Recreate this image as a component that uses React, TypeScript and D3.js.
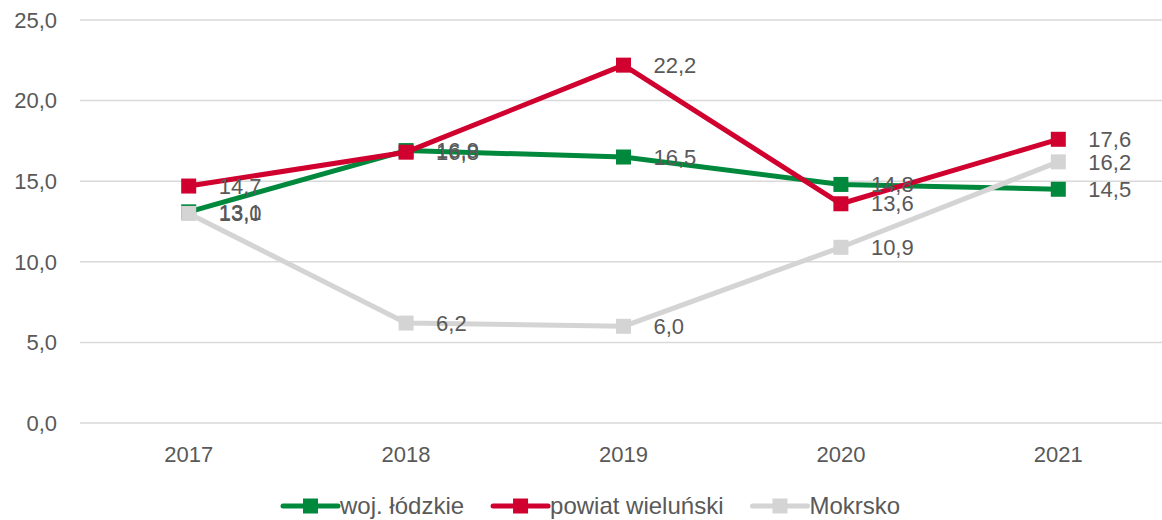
import React, { useEffect, useRef } from 'react';
import * as d3 from 'd3';

const years = ['2017', '2018', '2019', '2020', '2021'];
const wojLodzkie = [13.1, 16.9, 16.5, 14.8, 14.5];
const powiatWielunski = [14.7, 16.8, 22.2, 13.6, 17.6];
const mokrsko = [13.0, 6.2, 6.0, 10.9, 16.2];
const yTicks = [0, 5, 10, 15, 20, 25];

const seriesList = [
  { name: 'woj. łódzkie', values: wojLodzkie, color: '#00893D' },
  { name: 'powiat wieluński', values: powiatWielunski, color: '#D0002F' },
  { name: 'Mokrsko', values: mokrsko, color: '#D4D4D4' },
];

const W = 1162;
const H = 520;
const FONT = '"Liberation Sans", Arial, sans-serif';
const TEXT = '#595959';

const fmt = (v: number) => d3.format('.1f')(v).replace('.', ',');

const App = () => {
  const ref = useRef<SVGSVGElement>(null);

  useEffect(() => {
    const svg = d3.select(ref.current);
    svg.selectAll('*').remove();

    const x = d3.scaleBand().domain(years).range([80, 1167]);
    const y = d3.scaleLinear().domain([0, 25]).range([423, 20]);
    const cx = (d: string) => (x(d) as number) + x.bandwidth() / 2;

    // gridlines
    svg
      .append('g')
      .selectAll('line')
      .data(yTicks)
      .enter()
      .append('line')
      .attr('x1', 80)
      .attr('x2', 1167)
      .attr('y1', (d) => y(d))
      .attr('y2', (d) => y(d))
      .attr('stroke', '#D9D9D9')
      .attr('stroke-width', 1.5);

    // y labels
    svg
      .append('g')
      .selectAll('text')
      .data(yTicks)
      .enter()
      .append('text')
      .attr('x', 57)
      .attr('y', (d) => y(d))
      .attr('dy', '0.35em')
      .attr('text-anchor', 'end')
      .attr('font-family', FONT)
      .attr('font-size', 22)
      .attr('fill', TEXT)
      .text((d) => fmt(d));

    // x labels
    svg
      .append('g')
      .selectAll('text')
      .data(years)
      .enter()
      .append('text')
      .attr('x', (d) => cx(d))
      .attr('y', 462)
      .attr('text-anchor', 'middle')
      .attr('font-family', FONT)
      .attr('font-size', 22)
      .attr('fill', TEXT)
      .text((d) => d);

    const line = d3
      .line<number>()
      .x((_, i) => cx(years[i]))
      .y((d) => y(d));

    seriesList.forEach((s) => {
      const g = svg.append('g');
      g.append('path')
        .attr('d', line(s.values))
        .attr('fill', 'none')
        .attr('stroke', s.color)
        .attr('stroke-width', 5)
        .attr('stroke-linejoin', 'round');
      g.selectAll('rect')
        .data(s.values)
        .enter()
        .append('rect')
        .attr('x', (_, i) => cx(years[i]) - 7.5)
        .attr('y', (d) => y(d) - 7.5)
        .attr('width', 15)
        .attr('height', 15)
        .attr('fill', s.color);
    });

    // value labels (drawn over all lines, overlaps kept as in the source)
    seriesList.forEach((s) => {
      svg
        .append('g')
        .selectAll('text')
        .data(s.values)
        .enter()
        .append('text')
        .attr('x', (_, i) => cx(years[i]) + 30)
        .attr('y', (d) => y(d))
        .attr('dy', '0.35em')
        .attr('font-family', FONT)
        .attr('font-size', 22)
        .attr('fill', TEXT)
        .text((d) => fmt(d));
    });

    // legend
    const legend = svg.append('g');
    let lx = 283;
    const ly = 506;
    seriesList.forEach((s) => {
      const item = legend.append('g');
      item
        .append('line')
        .attr('x1', lx)
        .attr('x2', lx + 55)
        .attr('y1', ly)
        .attr('y2', ly)
        .attr('stroke', s.color)
        .attr('stroke-width', 5)
        .attr('stroke-linecap', 'round');
      item
        .append('rect')
        .attr('x', lx + 20)
        .attr('y', ly - 7.5)
        .attr('width', 15)
        .attr('height', 15)
        .attr('fill', s.color);
      const t = item
        .append('text')
        .attr('x', lx + 57)
        .attr('y', ly)
        .attr('dy', '0.35em')
        .attr('font-family', FONT)
        .attr('font-size', 24)
        .attr('fill', TEXT)
        .text(s.name);
      const tw = (t.node() as SVGTextElement).getComputedTextLength();
      lx += 57 + tw + 29;
    });
  }, []);

  return <svg ref={ref} width={W} height={H} style={{ position: 'absolute', left: 0, top: 0 }} />;
};

export default App;
